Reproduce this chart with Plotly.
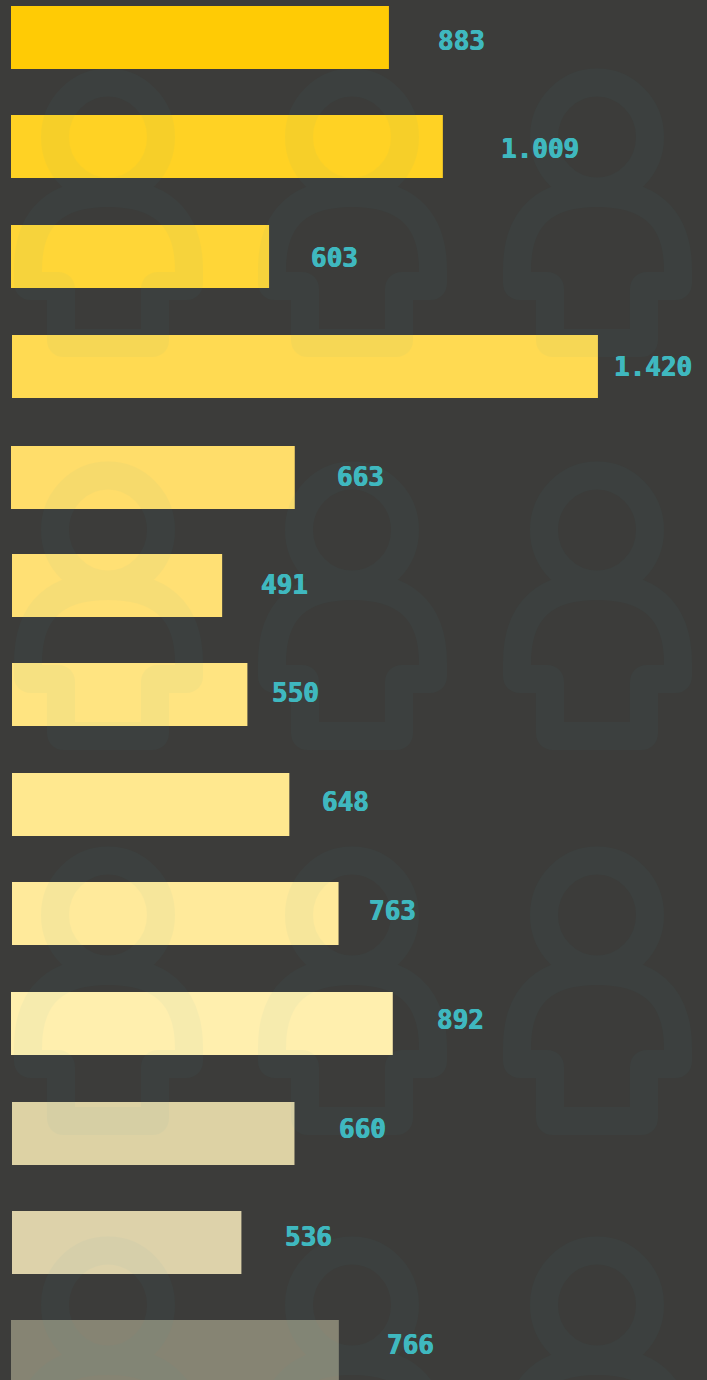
import plotly.graph_objects as go

W, H = 707, 1380

labels = ["883", "1.009", "603", "1.420", "663", "491", "550", "648", "763", "892", "660", "536", "766"]
bar_lengths = [883, 1009, 603, 1369, 663, 491, 550, 648, 763, 892, 660, 536, 766]
bar_colors = ["#ffcb05", "#ffd224", "#ffd637", "#ffda52", "#ffdd6a", "#ffe074", "#ffe481", "#ffe88f",
              "#ffea9b", "#ffefae", "#ddd2a4", "#ddd2aa", "#868473"]
row_centers = [37.5, 146.5, 256.5, 366.5, 477.5, 585.5, 694.5, 804.5, 913.5, 1023.5, 1133.5, 1242.5, 1351.5]
bar_insets = [0, 0, 0, 1, 0, 1, 1, 1, 1, 0, 1, 1, 0]
label_centers = [461, 540, 334, 653, 360, 284, 295, 345, 392, 460, 362, 308, 410]
label_rows = [41, 149, 258, 367, 477, 585, 693, 802, 911, 1020, 1129, 1237, 1345]

PX_PER_UNIT = 0.428
LEFT = 11
BG = "#3c3c3a"
TEAL = "#3fb8bf"

icon_columns = [108, 352, 597]
icon_rows = [137, 530, 915, 1305]


def p(x, y):
    return f"{x / W:.5f},{1 - y / H:.5f}"


def icon_path(cx, cy):
    def q(dx, dy):
        return p(cx + dx, cy + dy)
    rx, ry = 53, 54.5
    kx, ky = rx * 0.5523, ry * 0.5523
    head = (f"M{q(-rx, 0)} C{q(-rx, -ky)} {q(-kx, -ry)} {q(0, -ry)} "
            f"C{q(kx, -ry)} {q(rx, -ky)} {q(rx, 0)} "
            f"C{q(rx, ky)} {q(kx, ry)} {q(0, ry)} "
            f"C{q(-kx, ry)} {q(-rx, ky)} {q(-rx, 0)} Z")
    r = 3
    body = (f"M{q(-80, 133)} C{q(-80, 78)} {q(-50, 56)} {q(0, 56)} "
            f"C{q(50, 56)} {q(81, 78)} {q(81, 133)} "
            f"L{q(81, 149 - r)} Q{q(81, 149)} {q(81 - r, 149)} "
            f"L{q(47 + r, 149)} Q{q(47, 149)} {q(47, 149 + r)} "
            f"L{q(47, 206 - r)} Q{q(47, 206)} {q(47 - r, 206)} "
            f"L{q(-47 + r, 206)} Q{q(-47, 206)} {q(-47, 206 - r)} "
            f"L{q(-47, 149 + r)} Q{q(-47, 149)} {q(-47 - r, 149)} "
            f"L{q(-80 + r, 149)} Q{q(-80, 149)} {q(-80, 149 - r)} Z")
    return head + " " + body


fig = go.Figure()
fig.add_trace(go.Bar(
    orientation="h",
    x=bar_lengths,
    base=[i / PX_PER_UNIT for i in bar_insets],
    y=row_centers,
    width=63,
    marker=dict(color=bar_colors, line=dict(width=0)),
    hoverinfo="skip",
))

shapes = []
for row in icon_rows:
    for col in icon_columns:
        shapes.append(dict(
            type="path", xref="paper", yref="paper", layer="above",
            path=icon_path(col, row),
            line=dict(color="rgb(60,160,175)", width=28),
            fillcolor="rgba(0,0,0,0)",
            opacity=0.04,
        ))

annotations = [
    dict(text=t, x=x / W, y=1 - y / H, xref="paper", yref="paper", xanchor="center", yanchor="middle",
         showarrow=False,
         font=dict(family="DejaVu Sans Mono", size=26, color=TEAL, weight=700,
                   shadow=f"0.5px 0 0 {TEAL}, -0.5px 0 0 {TEAL}"))
    for t, x, y in zip(labels, label_centers, label_rows)
]

fig.update_layout(
    width=W, height=H,
    margin=dict(l=0, r=0, t=0, b=0),
    paper_bgcolor=BG, plot_bgcolor=BG,
    showlegend=False,
    xaxis=dict(visible=False, range=[-LEFT / PX_PER_UNIT, (W - LEFT) / PX_PER_UNIT], fixedrange=True),
    yaxis=dict(visible=False, range=[H, 0], fixedrange=True),
    shapes=shapes,
    annotations=annotations,
)
fig.write_html("out.html", config={"displayModeBar": False},
               post_script="document.body.style.margin='0';document.body.style.background='#3c3c3a';document.body.style.overflow='hidden';")
